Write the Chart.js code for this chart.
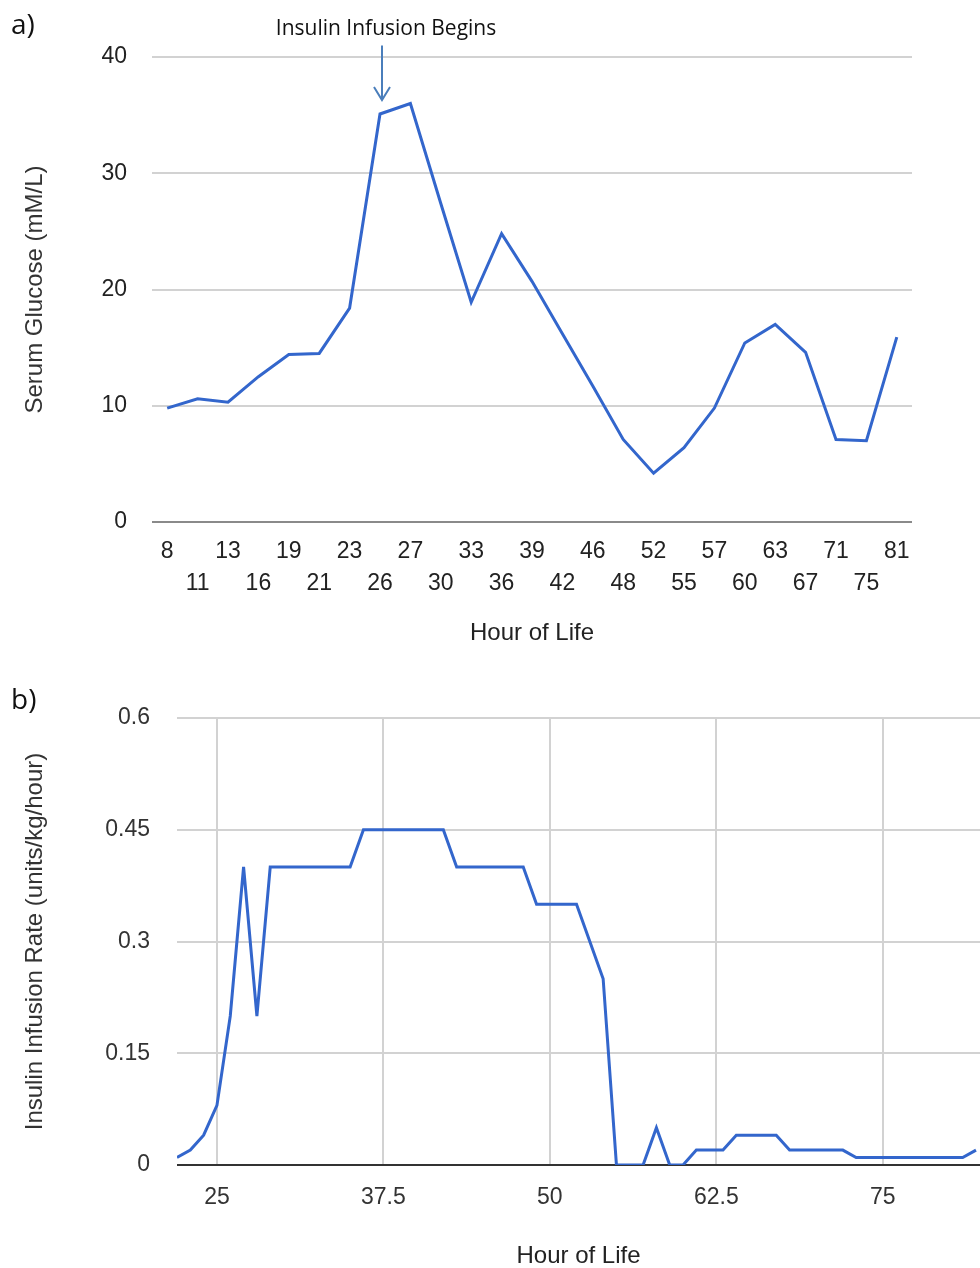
<!DOCTYPE html>
<html>
<head>
<meta charset="utf-8">
<script src="https://cdn.jsdelivr.net/npm/chart.js@4.4.1/dist/chart.umd.min.js"></script>
<style>
  html, body { margin: 0; padding: 0; background: #fff; overflow: hidden; }
  body { width: 980px; height: 1268px; position: relative; }
  canvas { position: absolute; left: 0; }
  #glucoseChart { top: 0; }
  #insulinChart { top: 660px; }
  .tag { position: absolute; left: 11px; font-family: "Open Sans", "Noto Sans", sans-serif; font-size: 28px; line-height: 1; color: #111; }
</style>
</head>
<body>
<canvas id="glucoseChart" width="980" height="660"></canvas>
<canvas id="insulinChart" width="980" height="608"></canvas>
<div class="tag" style="top:9px">a)</div>
<div class="tag" style="top:684px">b)</div>
<script>
// a) serum glucose, one value per sampled hour (category axis)
const glucoseHours = ["8", "11", "13", "16", "19", "21", "23", "26", "27", "30", "33", "36", "39",
  "42", "46", "48", "52", "55", "57", "60", "63", "67", "71", "75", "81"];
const glucoseValues = [9.8, 10.6, 10.3, 12.5, 14.4, 14.5, 18.4, 35.1, 36.0, 27.4, 18.9, 24.8, 20.7,
  16.2, 11.7, 7.1, 4.2, 6.4, 9.8, 15.4, 17.0, 14.6, 7.1, 7.0, 15.9];
const glucoseTicks = [0, 10, 20, 30, 40];

// b) insulin infusion rate against hour of life (linear axis)
const insulinHours = [22, 23, 24, 25, 26, 27, 28, 29, 35, 36, 42, 43, 48, 49, 52, 54, 55, 57,
  58, 59, 60, 61, 63, 64, 67, 68, 72, 73, 81, 82];
const insulinRates = [0.01, 0.02, 0.04, 0.08, 0.2, 0.4, 0.2, 0.4, 0.4, 0.45, 0.45, 0.4, 0.4, 0.35,
  0.35, 0.25, 0, 0, 0.05, 0, 0, 0.02, 0.02, 0.04, 0.04, 0.02, 0.02, 0.01, 0.01, 0.02];
const insulinHourTicks = [25, 37.5, 50, 62.5, 75];
const insulinRateTicks = [0, 0.15, 0.3, 0.45, 0.6];

// annotation: arrow over the hour the infusion starts
const infusionLabel = "Insulin Infusion Begins";
const infusionHour = "26";
const arrowFrom = 41.0;
const arrowTo = 36.3;

const LINE_BLUE = "#3366cc";
const TICK_FONT = { family: "'Liberation Sans', Arial, sans-serif", size: 23 };
const TITLE_FONT = { family: "'Liberation Sans', Arial, sans-serif", size: 24, lineHeight: 1.2 };

const infusionMarker = {
  id: "infusionMarker",
  afterDraw(chart) {
    const { ctx, scales } = chart;
    const x = scales.x.getPixelForValue(glucoseHours.indexOf(infusionHour)) + 2;
    const y0 = scales.y.getPixelForValue(arrowFrom);
    const y1 = scales.y.getPixelForValue(arrowTo);
    ctx.save();
    ctx.strokeStyle = "#4a7ebb";
    ctx.lineWidth = 2;
    ctx.beginPath();
    ctx.moveTo(x, y0);
    ctx.lineTo(x, y1);
    ctx.moveTo(x - 8, y1 - 13);
    ctx.lineTo(x, y1);
    ctx.lineTo(x + 8, y1 - 13);
    ctx.stroke();
    ctx.fillStyle = "#111";
    ctx.font = "21px 'Open Sans', 'Noto Sans', sans-serif";
    ctx.textAlign = "center";
    ctx.textBaseline = "middle";
    ctx.fillText(infusionLabel, x + 4, y0 - 16);
    ctx.restore();
  },
};

new Chart(document.getElementById("glucoseChart"), {
  type: "line",
  data: {
    labels: glucoseHours,
    datasets: [{
      data: glucoseValues,
      borderColor: LINE_BLUE,
      borderWidth: 3,
      pointRadius: 0,
      tension: 0,
    }],
  },
  options: {
    responsive: false,
    animation: false,
    layout: { padding: { top: 57, right: 68, bottom: 0, left: 0 } },
    plugins: { legend: { display: false }, tooltip: { enabled: false } },
    scales: {
      x: {
        type: "category",
        offset: true,
        grid: { display: false, drawTicks: false },
        border: { display: false },
        ticks: {
          autoSkip: false,
          maxRotation: 0,
          minRotation: 0,
          padding: 14,
          color: "#222",
          font: { ...TICK_FONT, lineHeight: 32 / 23 },
          callback: (v, i) => (i % 2 ? ["", glucoseHours[i]] : glucoseHours[i]),
        },
        title: { display: true, text: "Hour of Life", color: "#222", font: TITLE_FONT, padding: { top: 0, bottom: 12 } },
        afterFit: (s) => { s.height = 138; },
      },
      y: {
        min: 0,
        max: 40,
        afterBuildTicks: (s) => { s.ticks = glucoseTicks.map((v) => ({ value: v })); },
        grid: {
          drawTicks: false,
          lineWidth: 2,
          color: (c) => (c.tick && c.tick.value === 0 ? "#8a8a8a" : "#d2d2d2"),
        },
        border: { display: false },
        ticks: { padding: 25, color: "#222", font: TICK_FONT },
        title: { display: true, text: "Serum Glucose (mM/L)", color: "#333", font: TITLE_FONT, padding: { top: 21, bottom: 0 } },
        afterFit: (s) => { s.width = 152; },
      },
    },
  },
  plugins: [infusionMarker],
});

new Chart(document.getElementById("insulinChart"), {
  type: "line",
  data: {
    datasets: [{
      data: insulinHours.map((h, i) => ({ x: h, y: insulinRates[i] })),
      borderColor: LINE_BLUE,
      borderWidth: 3,
      pointRadius: 0,
      tension: 0,
    }],
  },
  options: {
    responsive: false,
    animation: false,
    layout: { padding: { top: 58, right: 0, bottom: 0, left: 0 } },
    plugins: { legend: { display: false }, tooltip: { enabled: false } },
    scales: {
      x: {
        type: "linear",
        min: 22,
        max: 82.3,
        afterBuildTicks: (s) => { s.ticks = insulinHourTicks.map((v) => ({ value: v })); },
        grid: { drawTicks: false, lineWidth: 2, color: "#d2d2d2" },
        border: { display: false },
        ticks: { padding: 19, color: "#333", font: TICK_FONT, callback: (v) => String(v) },
        title: { display: true, text: "Hour of Life", color: "#222", font: { ...TITLE_FONT, lineHeight: 1 }, padding: { top: 0, bottom: 0 } },
        afterFit: (s) => { s.height = 103; },
      },
      y: {
        min: 0,
        max: 0.6,
        afterBuildTicks: (s) => { s.ticks = insulinRateTicks.map((v) => ({ value: v })); },
        grid: {
          drawTicks: false,
          lineWidth: 2,
          color: (c) => (c.tick && c.tick.value === 0 ? "#333" : "#d2d2d2"),
        },
        border: { display: false },
        ticks: { padding: 27, color: "#333", font: TICK_FONT, callback: (v) => String(v) },
        title: { display: true, text: "Insulin Infusion Rate (units/kg/hour)", color: "#333", font: TITLE_FONT, padding: { top: 21, bottom: 0 } },
        afterFit: (s) => { s.width = 177; },
      },
    },
  },
});
</script>
</body>
</html>
